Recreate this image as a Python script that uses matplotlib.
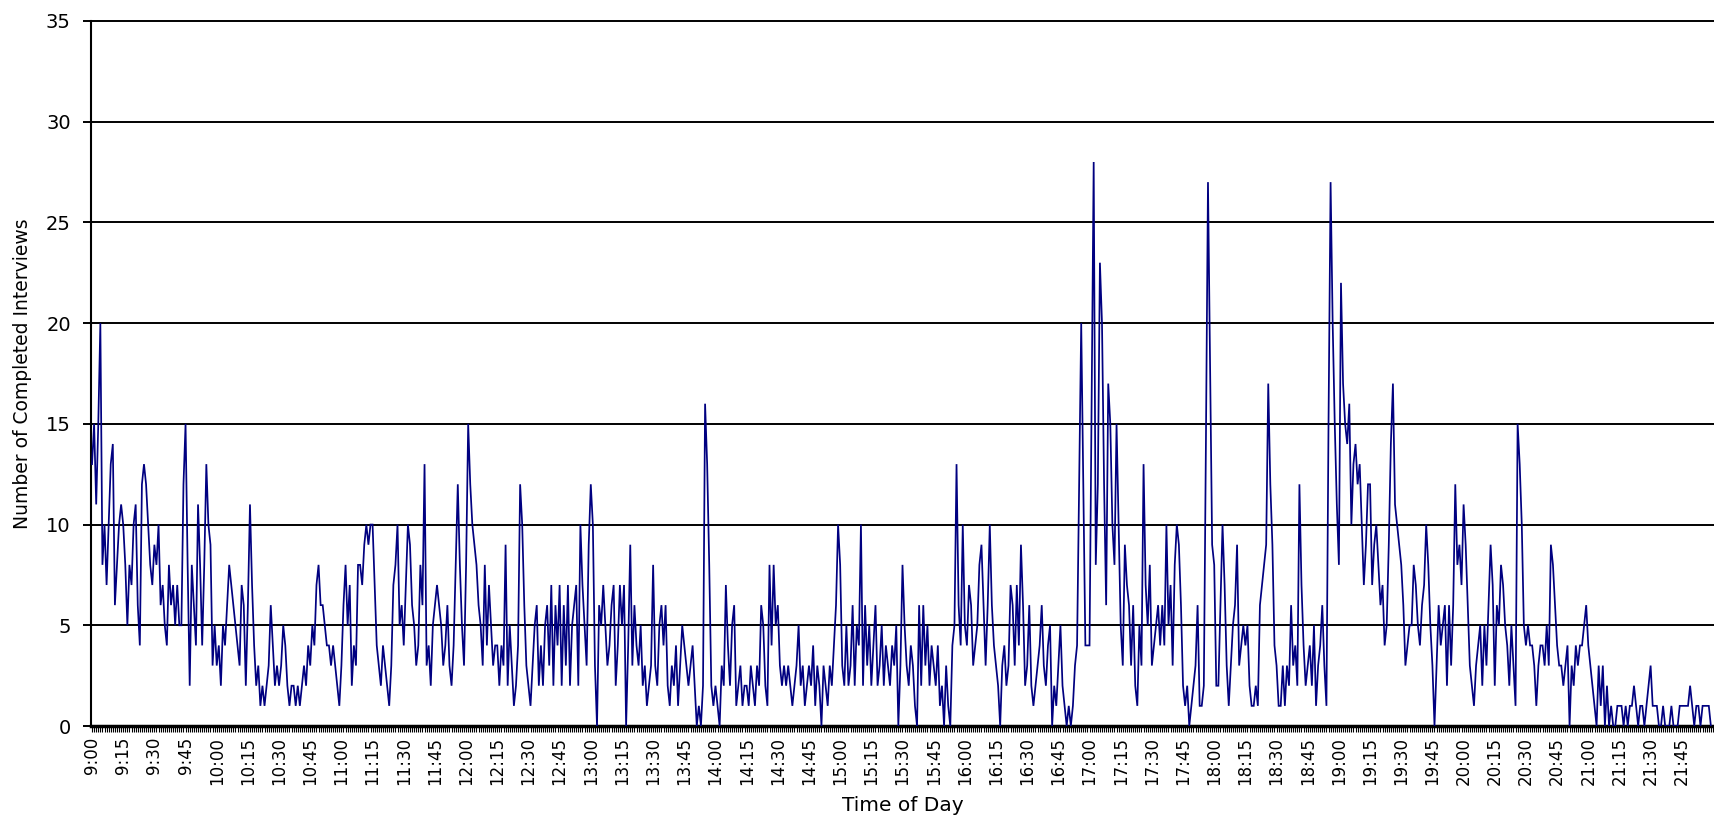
import matplotlib
matplotlib.use("Agg")
import matplotlib.pyplot as plt
from matplotlib.ticker import MultipleLocator

# Completed interviews per minute (one list per hour)
h09 = [13, 15, 11, 15, 20, 8, 10, 7, 10, 13, 14, 6, 8, 10, 11,
       10, 8, 5, 8, 7, 10, 11, 6, 4, 12, 13, 12, 10, 8, 7,
       9, 8, 10, 6, 7, 5, 4, 8, 6, 7, 5, 7, 5, 5, 12,
       15, 8, 2, 8, 6, 4, 11, 8, 4, 8, 13, 10, 9, 3, 5]
h10 = [3, 4, 2, 5, 4, 6, 8, 7, 6, 5, 4, 3, 7, 6, 2,
       6, 11, 7, 4, 2, 3, 1, 2, 1, 2, 3, 6, 4, 2, 3,
       2, 3, 5, 4, 2, 1, 2, 2, 1, 2, 1, 2, 3, 2, 4,
       3, 5, 4, 7, 8, 6, 6, 5, 4, 4, 3, 4, 3, 2, 1]
h11 = [3, 6, 8, 5, 7, 2, 4, 3, 8, 8, 7, 9, 10, 9, 10,
       10, 7, 4, 3, 2, 4, 3, 2, 1, 3, 7, 8, 10, 5, 6,
       4, 7, 10, 9, 6, 5, 3, 4, 8, 6, 13, 3, 4, 2, 5,
       6, 7, 6, 5, 3, 4, 6, 3, 2, 4, 8, 12, 8, 5, 3]
h12 = [8, 15, 12, 10, 9, 8, 6, 5, 3, 8, 4, 7, 5, 3, 4,
       4, 2, 4, 3, 9, 2, 5, 3, 1, 2, 4, 12, 10, 6, 3,
       2, 1, 3, 5, 6, 2, 4, 2, 5, 6, 3, 7, 2, 6, 4,
       7, 2, 6, 3, 7, 2, 5, 6, 7, 2, 10, 7, 5, 3, 9]
h13 = [12, 10, 3, 0, 6, 5, 7, 5, 3, 4, 6, 7, 2, 4, 7,
       5, 7, 0, 4, 9, 3, 6, 4, 3, 5, 2, 3, 1, 2, 3,
       8, 3, 2, 5, 6, 4, 6, 2, 1, 3, 2, 4, 1, 3, 5,
       4, 3, 2, 3, 4, 2, 0, 1, 0, 2, 16, 13, 8, 2, 1]
h14 = [2, 1, 0, 3, 2, 7, 4, 2, 5, 6, 1, 2, 3, 1, 2,
       2, 1, 3, 2, 1, 3, 2, 6, 5, 2, 1, 8, 4, 8, 5,
       6, 3, 2, 3, 2, 3, 2, 1, 2, 3, 5, 2, 3, 1, 2,
       3, 2, 4, 1, 3, 2, 0, 3, 2, 1, 3, 2, 4, 6, 10]
h15 = [8, 3, 2, 5, 2, 3, 6, 2, 5, 4, 10, 2, 6, 3, 5,
       2, 4, 6, 2, 3, 5, 2, 4, 3, 2, 4, 3, 5, 0, 3,
       8, 5, 3, 2, 4, 3, 1, 0, 6, 2, 6, 3, 5, 2, 4,
       3, 2, 4, 1, 2, 0, 3, 1, 0, 4, 5, 13, 6, 4, 10]
h16 = [5, 4, 7, 6, 3, 4, 5, 8, 9, 6, 3, 6, 10, 6, 4,
       3, 2, 0, 3, 4, 2, 3, 7, 6, 3, 7, 4, 9, 6, 2,
       3, 6, 2, 1, 2, 3, 4, 6, 3, 2, 4, 5, 0, 2, 1,
       3, 5, 2, 1, 0, 1, 0, 1, 3, 4, 12, 20, 12, 4, 4]
h17 = [4, 16, 28, 8, 12, 23, 20, 12, 6, 17, 15, 10, 8, 15, 10,
       5, 3, 9, 7, 6, 3, 6, 2, 1, 5, 3, 13, 7, 5, 8,
       3, 4, 5, 6, 4, 6, 4, 10, 5, 7, 3, 8, 10, 9, 6,
       2, 1, 2, 0, 1, 2, 3, 6, 1, 1, 2, 14, 27, 18, 9]
h18 = [8, 2, 2, 6, 10, 7, 3, 1, 3, 5, 6, 9, 3, 4, 5,
       4, 5, 2, 1, 1, 2, 1, 6, 7, 8, 9, 17, 12, 9, 4,
       3, 1, 1, 3, 1, 3, 2, 6, 3, 4, 2, 12, 7, 4, 2,
       3, 4, 2, 5, 1, 3, 4, 6, 3, 1, 15, 27, 20, 15, 11]
h19 = [8, 22, 17, 15, 14, 16, 10, 13, 14, 12, 13, 10, 7, 9, 12,
       12, 7, 9, 10, 8, 6, 7, 4, 5, 9, 14, 17, 11, 10, 9,
       8, 6, 3, 4, 5, 5, 8, 7, 5, 4, 6, 7, 10, 8, 5,
       3, 0, 3, 6, 4, 5, 6, 2, 6, 3, 6, 12, 8, 9, 7]
h20 = [11, 9, 6, 3, 2, 1, 3, 4, 5, 2, 5, 3, 6, 9, 7,
       2, 6, 5, 8, 7, 5, 4, 2, 5, 3, 1, 15, 13, 10, 5,
       4, 5, 4, 4, 3, 1, 3, 4, 4, 3, 5, 3, 9, 8, 6,
       4, 3, 3, 2, 3, 4, 0, 3, 2, 4, 3, 4, 4, 5, 6]
h21 = [4, 3, 2, 1, 0, 3, 1, 3, 0, 2, 0, 1, 0, 0, 1,
       1, 1, 0, 1, 0, 1, 1, 2, 1, 0, 1, 1, 0, 1, 2,
       3, 1, 1, 1, 0, 0, 1, 0, 0, 0, 1, 0, 0, 0, 1,
       1, 1, 1, 1, 2, 1, 0, 1, 1, 0, 1, 1, 1, 1, 0]

tick_labels = ["9:00", "9:15", "9:30", "9:45",
               "10:00", "10:15", "10:30", "10:45",
               "11:00", "11:15", "11:30", "11:45",
               "12:00", "12:15", "12:30", "12:45",
               "13:00", "13:15", "13:30", "13:45",
               "14:00", "14:15", "14:30", "14:45",
               "15:00", "15:15", "15:30", "15:45",
               "16:00", "16:15", "16:30", "16:45",
               "17:00", "17:15", "17:30", "17:45",
               "18:00", "18:15", "18:30", "18:45",
               "19:00", "19:15", "19:30", "19:45",
               "20:00", "20:15", "20:30", "20:45",
               "21:00", "21:15", "21:30", "21:45"]
y_ticks = [0, 5, 10, 15, 20, 25, 30, 35]

counts = h09 + h10 + h11 + h12 + h13 + h14 + h15 + h16 + h17 + h18 + h19 + h20 + h21
minutes = list(range(len(counts)))

W, H = 1714, 815
fig = plt.figure(figsize=(W / 100, H / 100), dpi=100)
ax = fig.add_axes([91 / W, 1 - 726 / H, 1 - 91 / W, (726 - 21) / H])

ax.plot(minutes, counts, color="#000080", lw=1.25, solid_joinstyle="miter", zorder=3)

ax.set_xlim(-0.5, 780.5)
ax.set_ylim(0, 35)
ax.set_yticks(y_ticks)
ax.set_xticks(minutes[::15][:len(tick_labels)])
ax.set_xticklabels(tick_labels, rotation=90, fontsize=12)
ax.xaxis.set_minor_locator(MultipleLocator(1))

for v in y_ticks[1:]:
    ax.axhline(v, color="black", lw=1.4, zorder=2, clip_on=False)

for s in ["top", "right"]:
    ax.spines[s].set_visible(False)
ax.spines["left"].set_linewidth(1.5)
ax.spines["bottom"].set_linewidth(2.5)

ax.tick_params(axis="y", direction="out", length=6, width=1.4, pad=8.5, labelsize=14)
ax.tick_params(axis="x", which="major", direction="out", length=4, width=0.8, pad=4)
ax.tick_params(axis="x", which="minor", direction="out", length=4, width=0.8)

ax.set_ylabel("Number of Completed Interviews", fontsize=13.5, labelpad=10)
ax.set_xlabel("Time of Day", fontsize=14.5, labelpad=8)

fig.savefig("out.png", dpi=100)
